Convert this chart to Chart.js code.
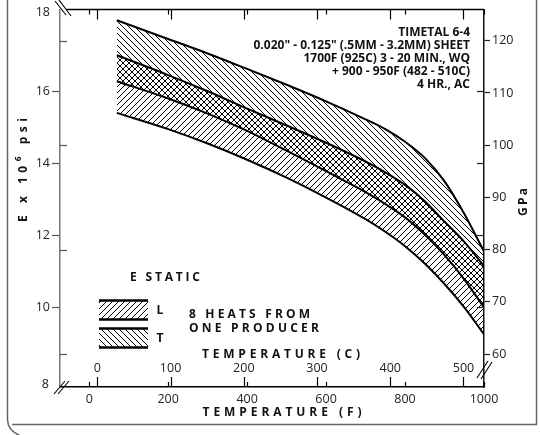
<!DOCTYPE html>
<html>
<head>
<meta charset="utf-8">
<script src="https://cdn.jsdelivr.net/npm/chart.js@4.4.1/dist/chart.umd.min.js"></script>
<style>
  html, body { margin: 0; padding: 0; background: #fff; }
  canvas { display: block; }
</style>
</head>
<body>
<canvas id="modulus" width="540" height="435"></canvas>
<script>
// temperatures (F) where the band edges are read
const tempF = [70, 200, 300, 400, 500, 600, 700, 750, 800, 850, 900, 950, 1000];
// T band (transverse) edges, E in 10^6 psi
const tUpper = [17.97, 17.45, 17.05, 16.62, 16.18, 15.72, 15.22, 14.95, 14.60, 14.15, 13.50, 12.60, 11.55];
const tLower = [16.28, 15.80, 15.38, 14.90, 14.35, 13.78, 13.20, 12.87, 12.50, 12.02, 11.45, 10.78, 10.00];
// L band (longitudinal) edges
const lUpper = [17.00, 16.45, 16.00, 15.52, 15.05, 14.57, 14.05, 13.75, 13.40, 12.95, 12.38, 11.82, 11.15];
const lLower = [15.40, 14.95, 14.55, 14.10, 13.60, 13.05, 12.45, 12.10, 11.70, 11.22, 10.65, 10.00, 9.25];

const ticksF = [0, 200, 400, 600, 800, 1000];
const ticksC = [0, 100, 200, 300, 400, 500];
const ticksPsi = [10, 12, 14, 16];
const ticksGPa = [60, 70, 80, 90, 100, 110, 120];
const innerGPa = [60, 80, 100, 120];

const notes = [
  'TIMETAL 6-4',
  '0.020" - 0.125" (.5MM - 3.2MM) SHEET',
  '1700F (925C) 3 - 20 MIN., WQ',
  '+ 900 - 950F (482 - 510C)',
  '4 HR., AC'
];

const PSI_MIN = 7.79, PSI_MAX = 18.27;
const GPA_PER_PSI = 6.895;

const FONT = '"Open Sans", "Liberation Sans", sans-serif';
const INK = '#111';

// diagonal hatch tile, '/' or '\'
function hatch(dir) {
  const s = 6;
  const c = document.createElement('canvas');
  c.width = s; c.height = s;
  const g = c.getContext('2d');
  g.strokeStyle = '#000';
  g.lineWidth = 1;
  g.beginPath();
  if (dir === '/') {
    g.moveTo(0, s); g.lineTo(s, 0);
    g.moveTo(-1, 1); g.lineTo(1, -1);
    g.moveTo(s - 1, s + 1); g.lineTo(s + 1, s - 1);
  } else {
    g.moveTo(0, 0); g.lineTo(s, s);
    g.moveTo(-1, s - 1); g.lineTo(1, s + 1);
    g.moveTo(s - 1, -1); g.lineTo(s + 1, 1);
  }
  g.stroke();
  return g.createPattern(c, 'repeat');
}

const hatchT = hatch('\\');
const hatchL = hatch('/');

const band = vals => tempF.map((f, i) => ({ x: f, y: vals[i] }));

// letter-spaced caps stretched to a given width
function spaced(ctx, parts, x, y, width, align, angle) {
  ctx.save();
  ctx.translate(x, y);
  if (angle) ctx.rotate(angle);
  const items = [];
  let natural = 0, count = 0;
  parts.forEach(p => {
    ctx.font = p.font;
    for (const ch of p.text) {
      const w = ctx.measureText(ch).width;
      items.push({ ch, font: p.font, dy: p.dy || 0, w });
      natural += w; count++;
    }
  });
  const gap = count > 1 ? (width - natural) / (count - 1) : 0;
  let cx = align === 'center' ? -width / 2 : align === 'right' ? -width : 0;
  ctx.textAlign = 'left';
  ctx.textBaseline = 'middle';
  ctx.fillStyle = INK;
  items.forEach(it => {
    ctx.font = it.font;
    ctx.fillText(it.ch, cx, it.dy);
    cx += it.w + gap;
  });
  ctx.restore();
}

function line(ctx, x1, y1, x2, y2) {
  ctx.beginPath();
  ctx.moveTo(x1, y1);
  ctx.lineTo(x2, y2);
  ctx.stroke();
}

const decor = {
  id: 'decor',
  afterDraw(chart) {
    const { ctx, chartArea: a, scales } = chart;
    const fx = v => scales.x.getPixelForValue(v);
    const cx = v => scales.xC.getPixelForValue(v);
    const py = v => scales.y.getPixelForValue(v);
    const bold = px => `bold ${px}px ${FONT}`;

    ctx.save();
    ctx.lineCap = 'butt';

    // top border
    ctx.strokeStyle = '#000';
    ctx.lineWidth = 1.5;
    line(ctx, a.left + 6, a.top, a.right, a.top);

    // inner ticks: F short, C long, on bottom and top
    ctx.lineWidth = 1.2;
    ticksF.forEach(v => {
      const x = Math.round(fx(v)) + 0.5;
      line(ctx, x, a.bottom, x, a.bottom - 5);
      line(ctx, x, a.top, x, a.top + 5);
    });
    ticksC.forEach(v => {
      const x = Math.round(cx(v)) + 0.5;
      line(ctx, x, a.bottom, x, a.bottom - 10);
      line(ctx, x, a.top, x, a.top + 10);
    });
    // GPa ticks inside the left axis, psi ticks inside the right axis
    ctx.strokeStyle = '#555';
    innerGPa.forEach(g => {
      const y = Math.round(py(g / GPA_PER_PSI)) + 0.5;
      line(ctx, a.left, y, a.left + 7, y);
    });
    ctx.strokeStyle = '#222';
    ticksPsi.forEach(v => {
      const y = Math.round(py(v)) + 0.5;
      line(ctx, a.right, y, a.right - 7, y);
    });

    // Celsius labels sit inside the plot
    ctx.fillStyle = '#222';
    ctx.font = `12.5px ${FONT}`;
    ctx.textAlign = 'center';
    ctx.textBaseline = 'middle';
    ticksC.forEach(v => ctx.fillText(String(v), cx(v), 368));

    // end labels at the axis breaks
    ctx.textAlign = 'right';
    ctx.fillText('18', 50, 12);
    ctx.fillText('8', 49, 384);

    // axis breaks
    ctx.strokeStyle = '#000';
    ctx.lineWidth = 1.1;
    line(ctx, 55, 1, 66, 15);
    line(ctx, 59, 0, 71, 16);
    line(ctx, 54, 394, 65, 381);
    line(ctx, 58, 394, 69, 381);
    line(ctx, 477, 378, 488, 361);
    line(ctx, 481, 379, 492, 362);

    // axis titles
    spaced(ctx, [{ text: 'TEMPERATURE (C)', font: bold(12) }], 281, 355, 158, 'center');
    spaced(ctx, [{ text: 'TEMPERATURE (F)', font: bold(12) }], 282, 413, 159, 'center');
    spaced(ctx, [
      { text: 'E x 10', font: bold(12) },
      { text: '6', font: bold(8.5), dy: -5 },
      { text: ' psi', font: bold(12) }
    ], 24, 170, 104, 'center', -Math.PI / 2);
    spaced(ctx, [{ text: 'GPa', font: bold(12) }], 524, 202, 28, 'center', -Math.PI / 2);

    // alloy and heat treatment note
    ctx.fillStyle = INK;
    ctx.font = bold(12);
    ctx.textAlign = 'right';
    notes.forEach((t, i) => ctx.fillText(t, 470, 32.5 + i * 13));

    spaced(ctx, [{ text: 'E STATIC', font: bold(12) }], 130, 278, 70, 'left');
    spaced(ctx, [{ text: '8 HEATS FROM', font: bold(12) }], 189, 315, 121, 'left');
    spaced(ctx, [{ text: 'ONE PRODUCER', font: bold(12) }], 189, 329, 130, 'left');

    // legend swatches
    const swatch = (pattern, top, bottom, label) => {
      ctx.fillStyle = pattern;
      ctx.fillRect(99, top, 49, bottom - top);
      ctx.strokeStyle = '#000';
      ctx.lineWidth = 2.6;
      line(ctx, 99, top, 148, top);
      line(ctx, 99, bottom, 148, bottom);
      ctx.fillStyle = INK;
      ctx.font = bold(12);
      ctx.textAlign = 'center';
      ctx.fillText(label, 160, (top + bottom) / 2 + 1);
    };
    swatch(hatchL, 300.5, 319.5, 'L');
    swatch(hatchT, 328.5, 347.5, 'T');

    // outer frame
    ctx.strokeStyle = '#666';
    ctx.lineWidth = 1.5;
    line(ctx, 7.5, 0, 7.5, 420);
    line(ctx, 12, 424.5, 537, 424.5);
    line(ctx, 536.5, 0, 536.5, 424.5);
    ctx.beginPath();
    ctx.moveTo(7.5, 420);
    ctx.quadraticCurveTo(8, 431, 21, 436);
    ctx.stroke();

    ctx.restore();
  }
};

const edge = {
  borderColor: '#000',
  borderWidth: 2,
  pointRadius: 0,
  cubicInterpolationMode: 'monotone'
};

const tickFont = { family: FONT, size: 12.5 };
const plain = v => String(v);

new Chart(document.getElementById('modulus'), {
  type: 'line',
  data: {
    datasets: [
      { ...edge, label: 'T', data: band(tUpper), fill: 2, backgroundColor: hatchT },
      { ...edge, label: 'L', data: band(lUpper), fill: 3, backgroundColor: hatchL },
      { ...edge, label: 'T lower', data: band(tLower), fill: false },
      { ...edge, label: 'L lower', data: band(lLower), fill: false }
    ]
  },
  options: {
    responsive: false,
    animation: false,
    events: [],
    layout: { padding: { top: 8, left: 0, right: 0, bottom: 0 } },
    plugins: { legend: { display: false }, tooltip: { enabled: false } },
    scales: {
      x: {
        type: 'linear',
        position: 'bottom',
        min: -74,
        max: 1000,
        afterBuildTicks: s => { s.ticks = ticksF.map(v => ({ value: v })); },
        afterFit: s => { s.height = 48; },
        grid: { drawOnChartArea: false, drawTicks: false },
        border: { color: '#000', width: 1.5 },
        ticks: { color: '#222', font: tickFont, padding: 5, maxRotation: 0, autoSkip: false, callback: plain }
      },
      xC: { type: 'linear', position: 'bottom', display: false, min: -51, max: 528 },
      y: {
        type: 'linear',
        position: 'left',
        min: PSI_MIN,
        max: PSI_MAX,
        afterBuildTicks: s => { s.ticks = ticksPsi.map(v => ({ value: v })); },
        afterFit: s => { s.width = 60; },
        grid: { drawOnChartArea: false, tickLength: 8, tickColor: '#555', tickWidth: 1.2 },
        border: { color: '#777', width: 1.5 },
        ticks: { color: '#222', font: tickFont, padding: 2, callback: plain }
      },
      y2: {
        type: 'linear',
        position: 'right',
        min: PSI_MIN * GPA_PER_PSI,
        max: PSI_MAX * GPA_PER_PSI,
        afterBuildTicks: s => { s.ticks = ticksGPa.map(v => ({ value: v })); },
        afterFit: s => { s.width = 56; },
        grid: { drawOnChartArea: false, tickLength: 6, tickColor: '#222', tickWidth: 1.2 },
        border: { color: '#111', width: 1.5 },
        ticks: { color: '#222', font: tickFont, padding: 2, callback: plain }
      }
    }
  },
  plugins: [decor]
});
</script>
</body>
</html>
